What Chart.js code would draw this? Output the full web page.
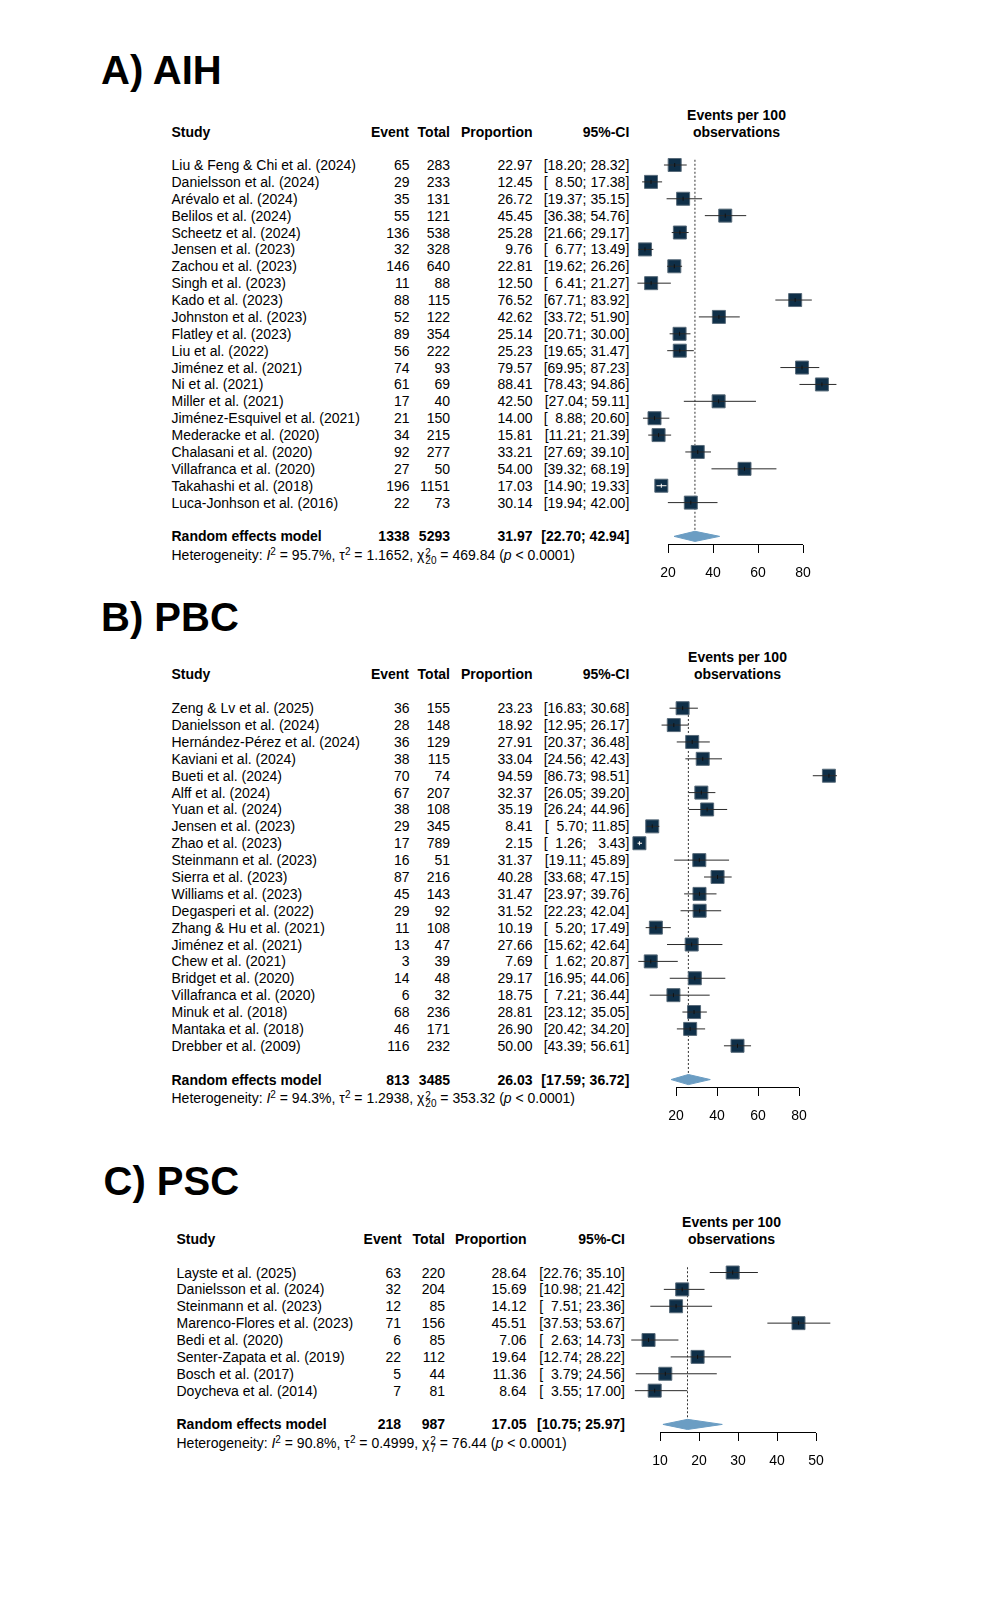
<!DOCTYPE html>
<html>
<head>
<meta charset="utf-8">
<script src="https://cdn.jsdelivr.net/npm/chart.js@4.4.1/dist/chart.umd.min.js"></script>
<style>
html, body { margin: 0; background: #fff; }
#page { position: relative; width: 1005px; height: 1600px; overflow: hidden;
        font-family: "Liberation Sans", Arial, sans-serif; color: #000; }
.t { position: absolute; white-space: pre; font-size: 14px; line-height: 16px; }
.b { font-weight: bold; }
.title { position: absolute; white-space: pre; font-weight: bold; font-size: 40px; line-height: 46px; }
canvas { position: absolute; }
.sp { font-size: 10px; position: relative; top: -5px; }
.ss { display: inline-block; font-size: 10px; line-height: 8px; vertical-align: -4px; margin-left: 1px; }
</style>
</head>
<body>
<div id="page"></div>
<script>
// ---- A) AIH ----
const studiesA = ["Liu & Feng & Chi et al. (2024)", "Danielsson et al. (2024)", "Arévalo et al. (2024)",
  "Belilos et al. (2024)", "Scheetz et al. (2024)", "Jensen et al. (2023)", "Zachou et al. (2023)",
  "Singh et al. (2023)", "Kado et al. (2023)", "Johnston et al. (2023)", "Flatley et al. (2023)",
  "Liu et al. (2022)", "Jiménez et al. (2021)", "Ni et al. (2021)", "Miller et al. (2021)",
  "Jiménez-Esquivel et al. (2021)", "Mederacke et al. (2020)", "Chalasani et al. (2020)",
  "Villafranca et al. (2020)", "Takahashi et al. (2018)", "Luca-Jonhson et al. (2016)"];
const eventsA = [65, 29, 35, 55, 136, 32, 146, 11, 88, 52, 89, 56, 74, 61, 17, 21, 34, 92, 27, 196, 22];
const totalA = [283, 233, 131, 121, 538, 328, 640, 88, 115, 122, 354, 222, 93, 69, 40, 150, 215, 277, 50, 1151, 73];
const propA = [22.97, 12.45, 26.72, 45.45, 25.28, 9.76, 22.81, 12.50, 76.52, 42.62, 25.14, 25.23, 79.57, 88.41, 42.50, 14.00, 15.81, 33.21, 54.00, 17.03, 30.14];
const loA = [18.20, 8.50, 19.37, 36.38, 21.66, 6.77, 19.62, 6.41, 67.71, 33.72, 20.71, 19.65, 69.95, 78.43, 27.04, 8.88, 11.21, 27.69, 39.32, 14.90, 19.94];
const hiA = [28.32, 17.38, 35.15, 54.76, 29.17, 13.49, 26.26, 21.27, 83.92, 51.90, 30.00, 31.47, 87.23, 94.86, 59.11, 20.60, 21.39, 39.10, 68.19, 19.33, 42.00];
const pooledA = [1338, 5293, 31.97, 22.70, 42.94];
const hetA = ["95.7%", "1.1652", "20", "469.84", "0.0001"];
const ticksA = [20, 40, 60, 80];

// ---- B) PBC ----
const studiesB = ["Zeng & Lv et al. (2025)", "Danielsson et al. (2024)", "Hernández-Pérez et al. (2024)",
  "Kaviani et al. (2024)", "Bueti et al. (2024)", "Alff et al. (2024)", "Yuan et al. (2024)",
  "Jensen et al. (2023)", "Zhao et al. (2023)", "Steinmann et al. (2023)", "Sierra et al. (2023)",
  "Williams et al. (2023)", "Degasperi et al. (2022)", "Zhang & Hu et al. (2021)", "Jiménez et al. (2021)",
  "Chew et al. (2021)", "Bridget et al. (2020)", "Villafranca et al. (2020)", "Minuk et al. (2018)",
  "Mantaka et al. (2018)", "Drebber et al. (2009)"];
const eventsB = [36, 28, 36, 38, 70, 67, 38, 29, 17, 16, 87, 45, 29, 11, 13, 3, 14, 6, 68, 46, 116];
const totalB = [155, 148, 129, 115, 74, 207, 108, 345, 789, 51, 216, 143, 92, 108, 47, 39, 48, 32, 236, 171, 232];
const propB = [23.23, 18.92, 27.91, 33.04, 94.59, 32.37, 35.19, 8.41, 2.15, 31.37, 40.28, 31.47, 31.52, 10.19, 27.66, 7.69, 29.17, 18.75, 28.81, 26.90, 50.00];
const loB = [16.83, 12.95, 20.37, 24.56, 86.73, 26.05, 26.24, 5.70, 1.26, 19.11, 33.68, 23.97, 22.23, 5.20, 15.62, 1.62, 16.95, 7.21, 23.12, 20.42, 43.39];
const hiB = [30.68, 26.17, 36.48, 42.43, 98.51, 39.20, 44.96, 11.85, 3.43, 45.89, 47.15, 39.76, 42.04, 17.49, 42.64, 20.87, 44.06, 36.44, 35.05, 34.20, 56.61];
const pooledB = [813, 3485, 26.03, 17.59, 36.72];
const hetB = ["94.3%", "1.2938", "20", "353.32", "0.0001"];
const ticksB = [20, 40, 60, 80];

// ---- C) PSC ----
const studiesC = ["Layste et al. (2025)", "Danielsson et al. (2024)", "Steinmann et al. (2023)",
  "Marenco-Flores et al. (2023)", "Bedi et al. (2020)", "Senter-Zapata et al. (2019)",
  "Bosch et al. (2017)", "Doycheva et al. (2014)"];
const eventsC = [63, 32, 12, 71, 6, 22, 5, 7];
const totalC = [220, 204, 85, 156, 85, 112, 44, 81];
const propC = [28.64, 15.69, 14.12, 45.51, 7.06, 19.64, 11.36, 8.64];
const loC = [22.76, 10.98, 7.51, 37.53, 2.63, 12.74, 3.79, 3.55];
const hiC = [35.10, 21.42, 23.36, 53.67, 14.73, 28.22, 24.56, 17.00];
const pooledC = [218, 987, 17.05, 10.75, 25.97];
const hetC = ["90.8%", "0.4999", "7", "76.44", "0.0001"];
const ticksC = [10, 20, 30, 40, 50];

Chart.defaults.font.family = '"Liberation Sans", Arial, sans-serif';

const page = document.getElementById('page');
const ROWH = 16.88;
const BOX = 13;            // square side in px
const BOXCOL = '#0f2f48';
const DIAMOND = '#6b9dc3';

function txt(s, x, y, align, bold, html) {
  const d = document.createElement('div');
  d.className = 't' + (bold ? ' b' : '');
  if (html) d.innerHTML = s; else d.textContent = s;
  d.style.top = (y - 8) + 'px';
  if (align === 'right') d.style.right = (1005 - x) + 'px';
  else if (align === 'center') { d.style.left = (x - 100) + 'px'; d.style.width = '200px'; d.style.textAlign = 'center'; }
  else d.style.left = x + 'px';
  page.appendChild(d);
}

const fs = '\u2007';
const f2 = v => (v < 10 ? fs : '') + v.toFixed(2);
const ci = (lo, hi) => '[' + f2(lo) + '; ' + f2(hi) + ']';

function drawPanel(p) {
  const n = p.studies.length;
  const reIdx = n + 1;
  const rowY = i => p.row0 + i * ROWH;
  const c = p.cols;

  // title
  const t = document.createElement('div');
  t.className = 'title';
  t.textContent = p.title;
  t.style.left = p.titleX + 'px';
  t.style.top = (p.titleY - 23) + 'px';
  page.appendChild(t);

  // header
  txt('Study', c.study, p.headY, 'left', true);
  txt('Event', c.evH, p.headY, 'right', true);
  txt('Total', c.tot, p.headY, 'right', true);
  txt('Proportion', c.prop, p.headY, 'right', true);
  txt('95%-CI', c.ci, p.headY, 'right', true);
  txt('Events per 100', p.epX, p.headY - 16.6, 'center', true);
  txt('observations', p.epX, p.headY, 'center', true);

  // study rows
  p.studies.forEach((s, i) => {
    const y = rowY(i);
    txt(s, c.study, y, 'left');
    txt(String(p.events[i]), c.ev, y, 'right');
    txt(String(p.total[i]), c.tot, y, 'right');
    txt(p.prop[i].toFixed(2), c.prop, y, 'right');
    txt(ci(p.lo[i], p.hi[i]), c.ci, y, 'right');
  });

  // pooled row
  const [pe, pt, est, plo, phi] = p.pooled;
  const yRe = rowY(reIdx);
  txt('Random effects model', c.study, yRe, 'left', true);
  txt(String(pe), c.ev, yRe, 'right', true);
  txt(String(pt), c.tot, yRe, 'right', true);
  txt(est.toFixed(2), c.prop, yRe, 'right', true);
  txt(ci(plo, phi), c.ci, yRe, 'right', true);

  const h = p.het;
  txt('Heterogeneity: <i>I</i><span class="sp">2</span> = ' + h[0] + ', \u03c4<span class="sp">2</span> = ' + h[1] +
      ', \u03c7<span class="ss">2<br>' + h[2] + '</span> = ' + h[3] + ' (<i>p</i> &lt; ' + h[4] + ')',
      c.study, yRe + ROWH + 1.5, 'left', false, true);

  // chart geometry: scale spans p.range, axis line only over the tick range
  const axisY = yRe + 8.3;
  const t0 = p.ticks[0], t1 = p.ticks[p.ticks.length - 1];
  const ppu = (p.px1 - p.px0) / (t1 - t0);
  const left = Math.round(p.px0 - (t0 - p.range[0]) * ppu);
  const right = Math.round(p.px1 + (p.range[1] - t1) * ppu);
  const padX = 12, AXH = 40;
  const canvasTop = Math.round(p.row0 - 2 * ROWH);
  const chartH = Math.round(axisY) - canvasTop;
  const yMin = (canvasTop - p.row0) / ROWH;
  const yMax = yMin + chartH / ROWH;

  const cv = document.createElement('canvas');
  const W = right - left + 2 * padX, H = chartH + AXH;
  cv.width = W; cv.height = H;
  cv.style.width = W + 'px'; cv.style.height = H + 'px';
  cv.style.left = (left - padX) + 'px';
  cv.style.top = canvasTop + 'px';
  page.appendChild(cv);

  // CI narrower than the square is drawn in white
  const inside = p.lo.map((lo, i) => (p.hi[i] - lo) * ppu < BOX - 1.5);
  const ciAll = [], ciIn = [];
  p.lo.forEach((lo, i) => {
    const seg = [{x: lo, y: i}, {x: p.hi[i], y: i}, {x: null, y: null}];
    ciAll.push(...seg);
    if (inside[i]) ciIn.push(...seg);
  });
  const yAxisLine = yMax - 0.5 / ROWH;

  new Chart(cv, {
    type: 'scatter',
    data: {
      datasets: [
        { type: 'line', order: 0, clip: false, data: [
            {x: plo, y: reIdx}, {x: est, y: reIdx - 0.3}, {x: phi, y: reIdx},
            {x: est, y: reIdx + 0.3}, {x: plo, y: reIdx}],
          fill: 'shape', backgroundColor: DIAMOND, borderColor: DIAMOND, borderWidth: 1,
          pointRadius: 0, tension: 0 },
        { type: 'scatter', order: 1, clip: false,
          data: p.prop.map((v, i) => ({x: v, y: i})),
          pointStyle: 'line', rotation: 90, pointRadius: 2, borderWidth: 1,
          pointBorderColor: inside.map(v => v ? '#ffffff' : '#111111') },
        { type: 'line', order: 2, clip: false, data: ciIn, borderColor: '#ffffff',
          borderWidth: 1, pointRadius: 0, spanGaps: false },
        { type: 'line', order: 3, clip: false, data: ciAll, borderColor: '#2a2a2a',
          borderWidth: 1, pointRadius: 0, spanGaps: false },
        { type: 'scatter', order: 4, clip: false,
          data: p.prop.map((v, i) => ({x: v, y: i})),
          pointStyle: 'rect', pointRadius: BOX / Math.SQRT2, pointBackgroundColor: BOXCOL,
          pointBorderColor: '#586b7a', pointBorderWidth: 1 },
        { type: 'line', order: 5, clip: false,
          data: [{x: est, y: -0.31}, {x: est, y: reIdx - 0.3}],
          borderColor: '#333333', borderWidth: 1, borderDash: [2, 2], pointRadius: 0 },
        { type: 'line', order: 6, clip: false,
          data: [{x: t0, y: yAxisLine}, {x: t1, y: yAxisLine}],
          borderColor: '#000000', borderWidth: 1, pointRadius: 0 }
      ]
    },
    options: {
      responsive: false,
      animation: false,
      events: [],
      layout: { autoPadding: false, padding: { left: padX, right: padX, top: 0, bottom: 0 } },
      plugins: { legend: { display: false }, tooltip: { enabled: false } },
      scales: {
        x: {
          type: 'linear', min: p.range[0], max: p.range[1],
          afterBuildTicks: s => { s.ticks = p.ticks.map(v => ({value: v})); },
          ticks: { font: { size: 14 }, color: '#000', padding: 11.5, maxRotation: 0, autoSkip: false },
          grid: { drawOnChartArea: false, drawTicks: true, tickLength: 8, color: '#000', lineWidth: 1 },
          border: { display: false },
          afterFit: s => { s.height = AXH; }
        },
        y: { type: 'linear', display: false, reverse: true, min: yMin, max: yMax }
      }
    }
  });
}

drawPanel({
  title: 'A) AIH', titleX: 101, titleY: 69.5, headY: 132, row0: 165,
  px0: 668.3, px1: 802.7, epX: 736.5, ticks: ticksA, range: [0, 100],
  cols: { study: 171.5, evH: 409, ev: 409.5, tot: 450, prop: 532.5, ci: 629.3 },
  studies: studiesA, events: eventsA, total: totalA, prop: propA, lo: loA, hi: hiA,
  pooled: pooledA, het: hetA
});
drawPanel({
  title: 'B) PBC', titleX: 101, titleY: 617.3, headY: 674, row0: 708.2,
  px0: 676.3, px1: 799, epX: 737.5, ticks: ticksB, range: [0, 100],
  cols: { study: 171.5, evH: 409, ev: 409.5, tot: 450, prop: 532.5, ci: 629.3 },
  studies: studiesB, events: eventsB, total: totalB, prop: propB, lo: loB, hi: hiB,
  pooled: pooledB, het: hetB
});
drawPanel({
  title: 'C) PSC', titleX: 103.5, titleY: 1180.5, headY: 1239, row0: 1272.5,
  px0: 660.3, px1: 816.3, epX: 731.5, ticks: ticksC, range: [0, 60],
  cols: { study: 176.5, evH: 401.7, ev: 401, tot: 445, prop: 526.5, ci: 625 },
  studies: studiesC, events: eventsC, total: totalC, prop: propC, lo: loC, hi: hiC,
  pooled: pooledC, het: hetC
});
</script>
</body>
</html>
